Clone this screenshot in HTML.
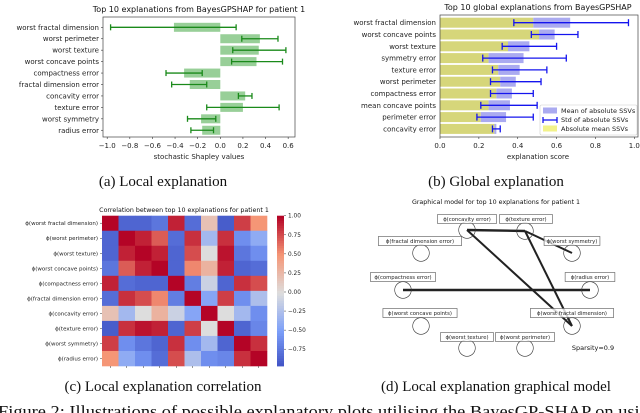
<!DOCTYPE html>
<html><head><meta charset="utf-8"><style>
html,body{margin:0;padding:0;background:#fff;width:640px;height:413px;overflow:hidden}
svg{display:block;font-family:"DejaVu Sans","Liberation Sans",sans-serif}
.cap{font-family:"Liberation Serif",serif;font-size:15px;fill:#111}
.tk{font-size:7px;fill:#222}
</style></head><body>
<svg id="fig" width="640" height="413" viewBox="0 0 640 413">
<g id="pa"></g>
<g id="pb"></g>
<g id="pc"></g>
<g id="pd"></g>
<text class="cap" x="163" y="186" text-anchor="middle">(a) Local explanation</text>
<text class="cap" x="496" y="186" text-anchor="middle">(b) Global explanation</text>
<text class="cap" x="163" y="391" text-anchor="middle">(c) Local explanation correlation</text>
<text class="cap" x="496" y="391" text-anchor="middle">(d) Local explanation graphical model</text>
<text x="-2" y="417" font-family="Liberation Serif,serif" font-size="17" fill="#111" textLength="660" lengthAdjust="spacingAndGlyphs">Figure 2:  Illustrations  of  possible  explanatory  plots  utilising  the  BayesGP-SHAP  on  using</text>
</svg>
<script>
// ---- Panel A data ----
const aCats=["worst fractal dimension","worst perimeter","worst texture","worst concave points","compactness error","fractal dimension error","concavity error","texture error","worst symmetry","radius error"];
const aVals=[-0.41,0.35,0.34,0.32,-0.32,-0.27,0.22,0.20,-0.17,-0.16];
const aLow=[-0.97,0.19,0.11,0.10,-0.48,-0.43,0.16,-0.12,-0.29,-0.26];
const aHigh=[0.14,0.51,0.58,0.55,-0.16,-0.12,0.28,0.52,-0.04,-0.06];
const aTicks=[-1.0,-0.8,-0.6,-0.4,-0.2,0.0,0.2,0.4,0.6];
// ---- Panel B data ----
const bCats=["worst fractal dimension","worst concave points","worst texture","symmetry error","texture error","worst perimeter","compactness error","mean concave points","perimeter error","concavity error"];
const bAbsMean=[0.48,0.51,0.35,0.25,0.30,0.31,0.29,0.25,0.21,0.28];
const bMeanAbs=[0.67,0.59,0.46,0.43,0.41,0.39,0.37,0.36,0.34,0.29];
const bLow=[0.38,0.47,0.32,0.22,0.27,0.26,0.26,0.21,0.19,0.27];
const bHigh=[0.97,0.71,0.60,0.65,0.55,0.52,0.48,0.50,0.48,0.31];
const bTicks=[0.0,0.2,0.4,0.6,0.8,1.0];
// ---- Panel C data ----
const cCats=["worst fractal dimension","worst perimeter","worst texture","worst concave points","compactness error","fractal dimension error","concavity error","texture error","worst symmetry","radius error"];
const cMatrix=[
[1,-.85,-.85,-.75,.9,-.8,.2,-.9,.8,.5],
[-.85,1,.9,.7,-.8,.85,-.3,.85,-.6,-.4],
[-.85,.9,1,.9,-.85,.75,0,.95,-.75,-.6],
[-.75,.7,.9,1,-.85,.55,.3,.9,-.85,-.8],
[.9,-.8,-.85,-.85,1,-.7,-.1,-.85,.85,.75],
[-.8,.85,.75,.55,-.7,1,-.45,.8,-.6,-.25],
[.2,-.3,0,.3,-.1,-.45,1,0,-.3,-.6],
[-.9,.85,.95,.9,-.85,.8,0,1,-.85,-.65],
[.8,-.6,-.75,-.85,.85,-.6,-.3,-.85,1,.85],
[.5,-.4,-.6,-.8,.75,-.25,-.6,-.65,.85,1]];
const cTicks=[1.00,0.75,0.50,0.25,0.00,-0.25,-0.50,-0.75];
// ---- Panel D data ----
const dNodes=["concavity error","texture error","fractal dimension error","worst symmetry","compactness error","radius error","worst concave points","worst fractal dimension","worst texture","worst perimeter"];
const dEdges=[[0,1,2.4],[1,3,2],[4,5,2.4],[0,7,2],[1,7,2]];
const dSparsity="Sparsity=0.9";

const NS="http://www.w3.org/2000/svg";
function mk(p,t,a,txt){const e=document.createElementNS(NS,t);for(const k in a)e.setAttribute(k,a[k]);if(txt!==undefined)e.textContent=txt;p.appendChild(e);return e;}

// Panel A
(function(){
const g=document.getElementById('pa');
const L=103,R=295,T=17,B=137;
const x=v=>220.3+v*113.1;
const y=i=>27.3+i*11.44;
mk(g,'text',{x:199,y:12,'font-size':8,'text-anchor':'middle',fill:'#111'},"Top 10 explanations from BayesGPSHAP for patient 1");
aCats.forEach((c,i)=>{
 const b=mk(g,'rect',{x:Math.min(x(0),x(aVals[i])),y:y(i)-4.5,width:Math.abs(x(aVals[i])-x(0)),height:9,fill:'#98cf98'});
 
 const e=mk(g,'g',{stroke:'#1a8a1a','stroke-width':1.3});
 
 mk(e,'line',{x1:x(aLow[i]),x2:x(aHigh[i]),y1:y(i),y2:y(i)});
 mk(e,'line',{x1:x(aLow[i]),x2:x(aLow[i]),y1:y(i)-3,y2:y(i)+3});
 mk(e,'line',{x1:x(aHigh[i]),x2:x(aHigh[i]),y1:y(i)-3,y2:y(i)+3});
 const t=mk(g,'text',{x:L-4,y:y(i)+2.5,'text-anchor':'end',class:'tk'},c);
 
 mk(g,'line',{x1:L-2,x2:L,y1:y(i),y2:y(i),stroke:'#333','stroke-width':.6});
});
mk(g,'rect',{x:L,y:T,width:R-L,height:B-T,fill:'none',stroke:'#444','stroke-width':.7});
aTicks.forEach(v=>{mk(g,'line',{x1:x(v),x2:x(v),y1:B,y2:B+2,stroke:'#333','stroke-width':.6});
 mk(g,'text',{x:x(v),y:148,'text-anchor':'middle',class:'tk'},(v<0?'\u2212':'')+Math.abs(v).toFixed(1));});
mk(g,'text',{x:199,y:159,'text-anchor':'middle',class:'tk'},"stochastic Shapley values");
})();

// Panel B
(function(){
const g=document.getElementById('pb');
const L=440,R=638,T=15,B=137;
const x=v=>440+v*194.3;
const y=i=>22.7+i*11.8;
mk(g,'text',{x:538,y:10,'font-size':8,'text-anchor':'middle',fill:'#111'},"Top 10 global explanations from BayesGPSHAP");
bCats.forEach((c,i)=>{
 const b1=mk(g,'rect',{x:x(0),y:y(i)-5,width:x(bAbsMean[i])-x(0),height:10,fill:'#d6d67a'});
 
 const b2=mk(g,'rect',{x:x(Math.min(bAbsMean[i],bMeanAbs[i])),y:y(i)-5,width:Math.abs(x(bMeanAbs[i])-x(bAbsMean[i])),height:10,fill:'#aaaaf0'});
 
 const e=mk(g,'g',{stroke:'#1515ee','stroke-width':1.3});
 
 mk(e,'line',{x1:x(bLow[i]),x2:x(bHigh[i]),y1:y(i),y2:y(i)});
 mk(e,'line',{x1:x(bLow[i]),x2:x(bLow[i]),y1:y(i)-3.5,y2:y(i)+3.5});
 mk(e,'line',{x1:x(bHigh[i]),x2:x(bHigh[i]),y1:y(i)-3.5,y2:y(i)+3.5});
 const t=mk(g,'text',{x:L-4,y:y(i)+2.5,'text-anchor':'end',class:'tk'},c);
 
});
mk(g,'rect',{x:L,y:T,width:R-L,height:B-T,fill:'none',stroke:'#444','stroke-width':.7});
bTicks.forEach(v=>{mk(g,'line',{x1:x(v),x2:x(v),y1:B,y2:B+2,stroke:'#333','stroke-width':.6});
 mk(g,'text',{x:x(v),y:148,'text-anchor':'middle',class:'tk'},v.toFixed(1));});
mk(g,'text',{x:538,y:159,'text-anchor':'middle',class:'tk'},"explanation score");
const lg=mk(g,'g',{});
mk(lg,'rect',{x:540,y:105,width:97,height:30,fill:'#fff','fill-opacity':.85,stroke:'#ccc','stroke-width':.6,rx:1.5});
mk(lg,'rect',{x:543,y:107.5,width:14,height:6,fill:'#aaaaf0'});
mk(lg,'text',{x:561,y:113,'font-size':6.5,fill:'#222'},"Mean of absolute SSVs");
mk(lg,'line',{x1:543,x2:557,y1:120,y2:120,stroke:'#1515ee','stroke-width':1.3});
mk(lg,'line',{x1:543,x2:543,y1:117,y2:123,stroke:'#1515ee','stroke-width':1.3});
mk(lg,'line',{x1:557,x2:557,y1:117,y2:123,stroke:'#1515ee','stroke-width':1.3});
mk(lg,'text',{x:561,y:122,'font-size':6.5,fill:'#222'},"Std of absolute SSVs");
mk(lg,'rect',{x:543,y:125.5,width:14,height:6,fill:'#f2f28a'});
mk(lg,'text',{x:561,y:131,'font-size':6.5,fill:'#222'},"Absolute mean SSVs");
})();

// Panel C
function cw(v){
 const stops=[[-1,[59,76,192]],[-.5,[124,159,249]],[0,[221,221,221]],[.5,[245,150,118]],[1,[180,4,38]]];
 for(let k=0;k<stops.length-1;k++){const a=stops[k],b=stops[k+1];if(v<=b[0]){const t=(v-a[0])/(b[0]-a[0]);return 'rgb('+a[1].map((c,j)=>Math.round(c+(b[1][j]-c)*t)).join(',')+')';}}
 return 'rgb(180,4,38)';}
(function(){
const g=document.getElementById('pc');
const L=102,R=267,T=215.7,B=366;
const cwid=(R-L)/10,chgt=(B-T)/10;
mk(g,'text',{x:184,y:212,'font-size':6.3,'text-anchor':'middle',fill:'#111'},"Correlation between top 10 explanations for patient 1");
cMatrix.forEach((row,i)=>row.forEach((v,j)=>{
 const r=mk(g,'rect',{x:L+j*cwid,y:T+i*chgt,width:cwid+.3,height:chgt+.3,fill:cw(v)});
 
}));
cCats.forEach((c,i)=>{
 const t=mk(g,'text',{x:L-4,y:T+(i+.5)*chgt+2,'text-anchor':'end','font-size':5.5,fill:'#222'},'\u03d5('+c+')');
 
 mk(g,'line',{x1:L-2,x2:L,y1:T+(i+.5)*chgt,y2:T+(i+.5)*chgt,stroke:'#333','stroke-width':.5});
 mk(g,'line',{x1:L+(i+.5)*cwid,x2:L+(i+.5)*cwid,y1:B,y2:B+2,stroke:'#333','stroke-width':.5});
});
const cbx=277,cbw=7,vmax=1.0,vmin=-0.97;
const cy=v=>T+(vmax-v)/(vmax-vmin)*(B-T);
const cb=mk(g,'g',{});
for(let k=0;k<60;k++){const v1=vmax-(vmax-vmin)*k/60;mk(cb,'rect',{x:cbx,y:cy(v1),width:cbw,height:(B-T)/60+.4,fill:cw(v1)});}
cTicks.forEach(v=>{mk(cb,'line',{x1:cbx+cbw,x2:cbx+cbw+2,y1:cy(v),y2:cy(v),stroke:'#333','stroke-width':.5});
 mk(cb,'text',{x:cbx+cbw+4,y:cy(v)+2,'font-size':5.8,fill:'#222'},(v<0?'\u2212':'')+Math.abs(v).toFixed(2));});
})();

// Panel D
(function(){
const g=document.getElementById('pd');
const pos=[[467,230],[525,231],[421,253],[572,253],[403,290],[590,290],[421,326],[572,326],[467,348],[525,348]];
const lbl=[[467,219],[526,219],[420,241],[572,241],[403,277],[590,277],[420,313],[572,313],[467,337],[525,337]];
mk(g,'text',{x:496,y:204,'font-size':6.3,'text-anchor':'middle',fill:'#111'},"Graphical model for top 10 explanations for patient 1");
dEdges.forEach((e,k)=>{const l=mk(g,'line',{x1:pos[e[0]][0],y1:pos[e[0]][1],x2:pos[e[1]][0],y2:pos[e[1]][1],stroke:'#222','stroke-width':e[2]});
 });
dNodes.forEach((n,i)=>{
 const c=mk(g,'circle',{cx:pos[i][0],cy:pos[i][1],r:8.3,fill:'none',stroke:'#333','stroke-width':.6});
 
 const s='\u03d5('+n+')';const w=s.length*3.05+4;
 const r=mk(g,'rect',{x:lbl[i][0]-w/2,y:lbl[i][1]-4.5,width:w,height:9,fill:'#fff','fill-opacity':.8,stroke:'#555','stroke-width':.6});
 
 const t=mk(g,'text',{x:lbl[i][0],y:lbl[i][1]+2,'text-anchor':'middle','font-size':5.3,fill:'#222'},s);
 
});
mk(g,'text',{x:593,y:350,'text-anchor':'middle','font-size':6.5,fill:'#111'},dSparsity);
})();
</script>
</body></html>
